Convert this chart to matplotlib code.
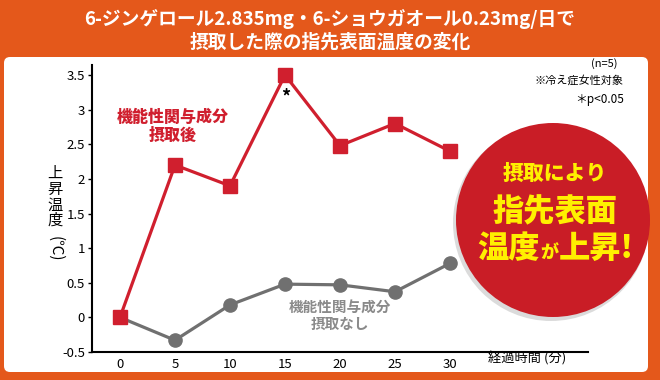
import numpy as np
import matplotlib.pyplot as plt
from matplotlib.patches import FancyBboxPatch, Circle

plt.rcParams['font.family'] = ['Noto Sans CJK JP', 'DejaVu Sans']

# データ
minutes = [0, 5, 10, 15, 20, 25, 30]
after_intake = [0, 2.2, 1.9, 3.5, 2.48, 2.8, 2.4]
no_intake = [0, -0.33, 0.18, 0.48, 0.47, 0.37, 0.78]
yticks = [-0.5, 0, 0.5, 1, 1.5, 2, 2.5, 3, 3.5]
ytick_labels = ['-0.5', '0', '0.5', '1', '1.5', '2', '2.5', '3', '3.5']

ORANGE = '#E4581B'
RED = '#D01F2E'
GRAY = '#707070'

W, H = 660, 380
fig = plt.figure(figsize=(6.6, 3.8), dpi=100, facecolor=ORANGE)

# 背景 (ピクセル座標)
bg = fig.add_axes([0, 0, 1, 1], zorder=-1)
bg.set_xlim(0, W)
bg.set_ylim(H, 0)
bg.axis('off')
bg.add_patch(FancyBboxPatch((4, 57), 644, 315, boxstyle="round,pad=0,rounding_size=6",
                            fc='white', ec='none'))
bg.text(330, 19, '6-ジンゲロール2.835mg・6-ショウガオール0.23mg/日で', color='white',
        fontsize=13.5, fontweight='bold', ha='center', va='center')
bg.text(330, 42, '摂取した際の指先表面温度の変化', color='white',
        fontsize=13.5, fontweight='bold', ha='center', va='center')

# グラフ本体
ax = fig.add_axes([92 / W, 1 - 352 / H, 496 / W, 287 / H])
ax.patch.set_alpha(0)
ax.plot(minutes, no_intake, color=GRAY, lw=2.3, marker='o', ms=9.5, zorder=3)
ax.plot(minutes, after_intake, color=RED, lw=2.3, marker='s', ms=10, zorder=4)
ax.set_xlim(-2.545, 42.545)
ax.set_ylim(-0.5, 3.645)
ax.set_xticks(minutes)
ax.set_xticklabels([str(m) for m in minutes])
ax.set_yticks(yticks)
ax.set_yticklabels(ytick_labels)
ax.tick_params(axis='x', length=0, pad=4, labelsize=9.5)
ax.tick_params(axis='y', length=3, width=1, pad=2, labelsize=9.5)
for s in ['top', 'right']:
    ax.spines[s].set_visible(False)
for s in ['left', 'bottom']:
    ax.spines[s].set_linewidth(1.5)

# 注釈
ov = fig.add_axes([0, 0, 1, 1], zorder=5)
ov.set_xlim(0, W)
ov.set_ylim(H, 0)
ov.axis('off')
ov.patch.set_alpha(0)

ov.text(55, 197, '上\n昇\n温\n度', fontsize=11, ha='center', va='center', linespacing=0.9)
ov.text(55, 249, '(℃)', fontsize=11, ha='center', va='center', rotation=270)
ov.text(527, 358, '経過時間 (分)', fontsize=9.5, ha='center', va='center')
ov.text(173, 126, '機能性関与成分\n摂取後', color=RED, fontsize=11.5, fontweight='heavy',
        ha='center', va='center', linespacing=1.1)
ov.text(340, 315, '機能性関与成分\n摂取なし', color='#8a8a8a', fontsize=10.5,
        fontweight='bold', ha='center', va='center', linespacing=1.1)
ov.text(286, 97, '*', fontsize=13, ha='center', va='center', fontweight='bold')
ov.text(617, 64, '(n=5)', fontsize=8, ha='right', va='center')
ov.text(624, 80, '※冷え症女性対象', fontsize=8, ha='right', va='center')
ov.text(624, 99, '＊p<0.05', fontsize=8.5, ha='right', va='center')

# 赤い丸
ov.add_patch(Circle((551, 223), 98, fc='#999999', ec='none', alpha=0.35))
ov.add_patch(Circle((553, 220), 97, fc='#C91D26', ec='none'))
YEL = '#FFF000'
ov.text(555, 174, '摂取により', color=YEL, fontsize=15, fontweight='heavy', ha='center', va='center')
ov.text(555, 212, '指先表面', color=YEL, fontsize=22.5, fontweight='heavy', ha='center', va='center')
ov.text(540, 258, '温度', color=YEL, fontsize=22.5, fontweight='heavy', ha='right', va='baseline')
ov.text(549, 258, 'が', color=YEL, fontsize=13, fontweight='heavy', ha='center', va='baseline')
ov.text(559, 258, '上昇!', color=YEL, fontsize=22.5, fontweight='heavy', ha='left', va='baseline')

fig.savefig('out.png', dpi=100, facecolor=ORANGE)
